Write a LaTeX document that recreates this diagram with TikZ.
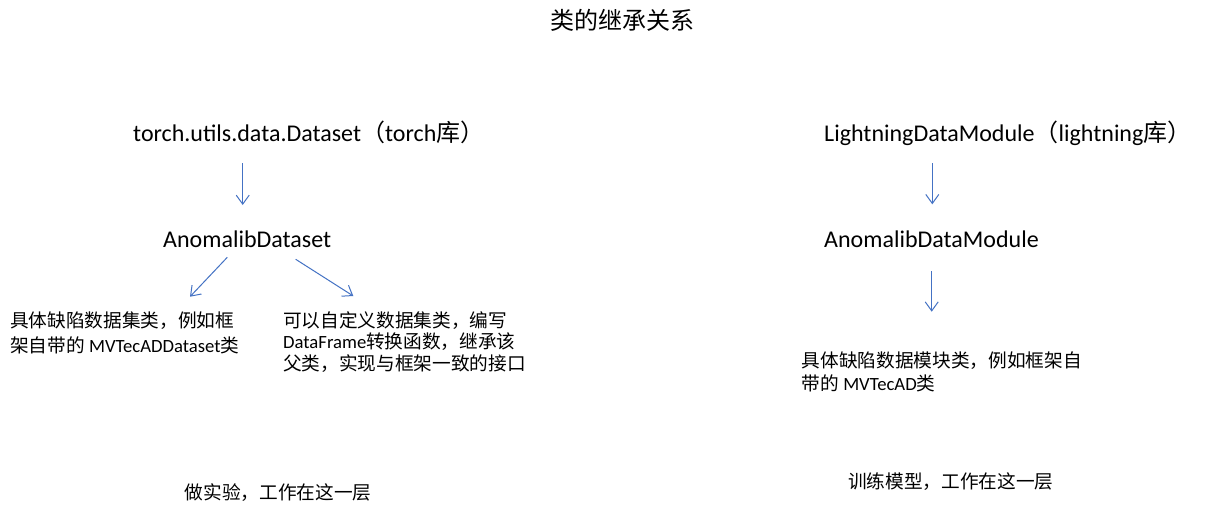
\documentclass[tikz,border=0pt]{standalone}
\usepackage{fontspec}
\setmainfont{Carlito}
\newfontfamily\cjk{Noto Sans CJK SC}
\usetikzlibrary{arrows.meta}
\definecolor{arrowblue}{HTML}{4472C4}
\tikzset{
  big/.style={inner sep=0pt, anchor=base west, font=\fontsize{24}{28}\selectfont},
  small/.style={inner sep=0pt, anchor=base west, align=left, font=\fontsize{18.67}{24.3}\selectfont},
  inherit/.style={draw=arrowblue, line width=1pt, -{Straight Barb[length=9pt,width=13pt]}},
}
\begin{document}
\begin{tikzpicture}[x=1pt,y=-1pt]
\fill[white] (0,0) rectangle (1230,509);
\useasboundingbox (0,0) rectangle (1230,509);

\node[big, anchor=base] (title) at (622.5,29) {\cjk 类的继承关系};

\node[big] (torch) at (133,141) {torch.utils.data.Dataset{\cjk （}torch{\cjk 库）}};
\node[big] (ads) at (163,247.5) {AnomalibDataset};
\node[small] (concrete) at (10,352) {{\cjk 具体缺陷数据集类，例如框}\\{\cjk 架自带的} MVTecADDataset{\cjk 类}};
\node[small, font=\fontsize{18.67}{21.7}\selectfont] (custom) at (283,370.4) {{\cjk 可以自定义数据集类，编写}\\DataFrame{\cjk 转换函数，继承该}\\{\cjk 父类，实现与框架一致的接口}};

\node[big] (light) at (824,141) {LightningDataModule{\cjk （}lightning{\cjk 库）}};
\node[big] (adm) at (824,247.5) {AnomalibDataModule};
\node[small, font=\fontsize{18.67}{23.3}\selectfont] (concretedm) at (801.5,390.3) {{\cjk 具体缺陷数据模块类，例如框架自}\\{\cjk 带的} MVTecAD{\cjk 类}};

\node[small, anchor=base] (expt) at (278.3,499.3) {\cjk 做实验，工作在这一层};
\node[small, anchor=base] (train) at (950.8,488.7) {\cjk 训练模型，工作在这一层};

\coordinate (a1s) at (242.7,163);   \coordinate (a1e) at (242.7,205);
\coordinate (a2s) at (227.3,257.3); \coordinate (a2e) at (190,296.7);
\coordinate (a3s) at (295.7,259.3); \coordinate (a3e) at (353.3,296);
\coordinate (a4s) at (932.3,163.3); \coordinate (a4e) at (932.3,204.3);
\coordinate (a5s) at (931.7,271);   \coordinate (a5e) at (931.7,311.7);

\draw[inherit] (a1s) -- (a1e);
\draw[inherit] (a2s) -- (a2e);
\draw[inherit] (a3s) -- (a3e);
\draw[inherit] (a4s) -- (a4e);
\draw[inherit] (a5s) -- (a5e);
\end{tikzpicture}
\end{document}
